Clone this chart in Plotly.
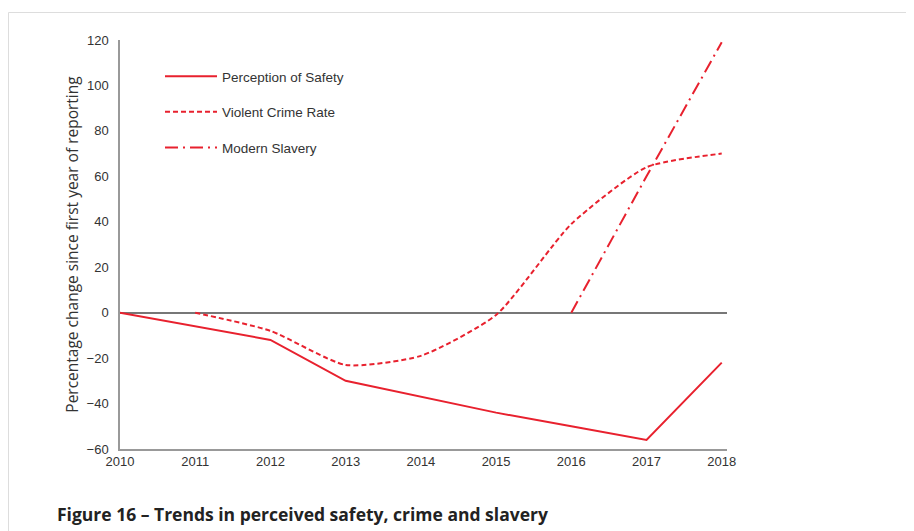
import plotly.graph_objects as go

years = [2010, 2011, 2012, 2013, 2014, 2015, 2016, 2017, 2018]
safety = [0, -6, -12, -30, -37, -44, -50, -56, -22]
crime_years = [2011, 2012, 2013, 2014, 2015, 2016, 2017, 2018]
crime = [0, -8, -23, -19, -1, 39, 64, 70]
slavery_years = [2016, 2017, 2018]
slavery = [0, 60, 119]
y_ticks = [-60, -40, -20, 0, 20, 40, 60, 80, 100, 120]

RED = "#E8212E"
OFF = 8  # page body margin
W, H = 914 - OFF, 531 - OFF
L, R, T, B = 112, 187, 32, 82
pw = W - L - R
ph = H - T - B

def px_x(s):  # screen px -> paper x
    return (s - OFF - L) / pw

def px_y(s):  # screen px -> paper y
    return (H - B - (s - OFF)) / ph

fig = go.Figure()
fig.add_trace(go.Scatter(x=years, y=safety, name="Perception of Safety", mode="lines",
                         line=dict(color=RED, width=2), legendgroup="a"))
fig.add_trace(go.Scatter(x=crime_years, y=crime, name="Violent Crime Rate", mode="lines",
                         line=dict(color=RED, width=2, dash="5px,3px", shape="spline", smoothing=0.6),
                         legendgroup="b"))
fig.add_trace(go.Scatter(x=slavery_years, y=slavery, name="Modern Slavery", mode="lines",
                         line=dict(color=RED, width=2, dash="13px,5px,2px,5px"), legendgroup="c"))

fig.update_layout(
    width=W, height=H,
    margin=dict(l=L, r=R, t=T, b=B),
    paper_bgcolor="white", plot_bgcolor="white",
    font=dict(family="Liberation Sans, Arial", size=13, color="#333"),
    showlegend=True,
    legend=dict(x=px_x(160), y=px_y(61), xanchor="left", yanchor="top",
                bgcolor="rgba(0,0,0,0)", tracegroupgap=15,
                font=dict(family="Liberation Sans, Arial", size=13.5, color="#333"),
                itemwidth=52),
    xaxis=dict(range=[2010, 2018.07], tickvals=years, ticktext=[str(y) for y in years],
               showgrid=False, zeroline=False, showline=True, linecolor="#999", linewidth=1.5,
               ticks="", tickfont=dict(size=13, color="#333")),
    yaxis=dict(range=[-60, 120], tickvals=y_ticks, showgrid=False,
               zeroline=True, zerolinecolor="#777", zerolinewidth=1.5,
               showline=True, linecolor="#999", linewidth=1.5, ticks="",
               ticklabelstandoff=7,
               tickfont=dict(size=13, color="#333"),
               title=dict(text="Percentage change since first year of reporting",
                          font=dict(family="Open Sans, Liberation Sans", size=15.5, color="#333"),
                          standoff=4)),
    shapes=[dict(type="rect", xref="paper", yref="paper",
                 x0=px_x(OFF + 0.5), x1=px_x(914 + 5), y0=px_y(531 + 5), y1=px_y(12.5),
                 line=dict(color="#DDDDDD", width=1), fillcolor="rgba(0,0,0,0)", layer="below")],
    annotations=[dict(text="<b>Figure 16 – Trends in perceived safety, crime and slavery</b>",
                      xref="paper", yref="paper", x=px_x(55), y=px_y(514),
                      xanchor="left", yanchor="middle", showarrow=False,
                      font=dict(family="Open Sans, Noto Sans", size=17.5, color="#222"))],
)

fig.write_html("out.html")
